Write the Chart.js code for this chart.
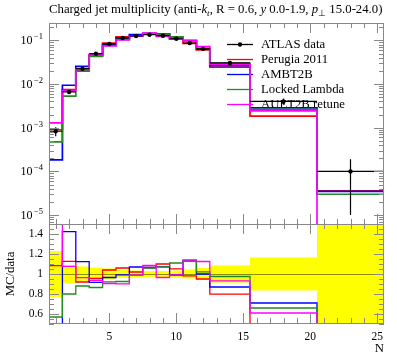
<!DOCTYPE html>
<html><head><meta charset="utf-8">
<script src="https://cdn.jsdelivr.net/npm/chart.js@4.4.1/dist/chart.umd.min.js"></script>
<style>
html,body{margin:0;padding:0;background:#fff;}
#wrap{position:relative;width:397px;height:358px;overflow:hidden;background:#fff;}
canvas{position:absolute;left:0;}
#title{position:absolute;left:49px;top:3px;font-family:"Liberation Serif",serif;font-size:12.75px;line-height:13px;white-space:nowrap;color:#000;}
#title sub{font-size:0.72em;vertical-align:-0.3em;line-height:0;}
</style></head>
<body><div id="wrap">
<canvas id="mainCanvas" width="397" height="225" style="top:0;width:397px;height:225px"></canvas>
<canvas id="ratioCanvas" width="397" height="134" style="top:224px;width:397px;height:134px"></canvas>
<div id="title">Charged jet multiplicity (anti-<i>k</i><sub><i>t</i></sub>, R = 0.6, <i>y</i> 0.0-1.9, <i>p</i><sub>⊥</sub> 15.0-24.0)</div>
</div>
<script>
// ---- data ----
const binEdges = [0.5,1.5,2.5,3.5,4.5,5.5,6.5,7.5,8.5,9.5,10.5,11.5,12.5,15.5,20.5,25.5];
const dataValues = [8.3e-4,6.6e-3,0.0225,0.0497,0.083,0.1135,0.126,0.135,0.128,0.109,0.087,0.064,0.0304,4.0e-3,1.0e-4];
const dataErrors = [1.9e-4,5.9e-4,1.7e-3,3.2e-3,4.6e-3,4.5e-3,4.4e-3,4.0e-3,3.8e-3,3.8e-3,3.9e-3,3.8e-3,2.6e-3,6.6e-4,9.0e-5];
const perugia2011 = [9.0e-4,7.43e-3,0.0207,0.0475,0.0863,0.1203,0.1285,0.1438,0.1408,0.1145,0.0853,0.0608,0.0243,1.84e-3,3.6e-5];
const ambt2b = [1.83e-4,9.4e-3,0.0253,0.0455,0.0801,0.1124,0.1348,0.1438,0.137,0.1079,0.0983,0.064,0.02645,2.84e-3,3.5e-5];
const lockedLambda = [4.73e-4,5.28e-3,0.0198,0.043,0.0764,0.105,0.1247,0.1431,0.137,0.121,0.0992,0.0653,0.02964,2.64e-3,3.0e-5];
const auet2bRetune = [1.29e-3,7.1e-3,0.0217,0.0465,0.0751,0.1022,0.1247,0.1465,0.1235,0.1079,0.0983,0.072,0.0283,2.44e-3,0];
const seriesLabels = ['ATLAS data','Perugia 2011','AMBT2B','Locked Lambda','AUET2B retune'];
const xTickLabels = [5,10,15,20,25];
const mainTickValues = [1e-5,1e-4,1e-3,1e-2,1e-1];
const ratioTickLabels = [0.6,0.8,1,1.2,1.4];
const xAxisTitle = 'N';
const ratioAxisTitle = 'MC/data';

// ---- styles ----
const MAIN_MIN = 6.25e-6, MAIN_MAX = 0.25;
const FRAME = '#888888';
const FONT = '"Liberation Serif", serif';
const mcSeries = [
  {label: seriesLabels[4], values: auet2bRetune, color: '#ff00ff'},
  {label: seriesLabels[3], values: lockedLambda, color: '#228b22'},
  {label: seriesLabels[2], values: ambt2b, color: '#0000ff'},
  {label: seriesLabels[1], values: perugia2011, color: '#ff0000'}
];
const legendOrder = [3,2,1,0];

function stepPoints(vals, floor) {
  const pts = vals.map((v,i)=>({x: binEdges[i], y: floor !== undefined ? Math.max(v, floor) : v}));
  const last = pts[pts.length-1].y;
  pts.push({x: binEdges[vals.length], y: last});
  return pts;
}

function clipTo(ctx, a) { ctx.beginPath(); ctx.rect(a.left, a.top, a.right-a.left, a.bottom-a.top); ctx.clip(); }

function drawXTicks(ctx, a, x) {
  for (let n = 1; n <= 25; n++) {
    const px = Math.round(x.getPixelForValue(n)) + 0.5;
    const len = n % 5 === 0 ? 10 : 5;
    ctx.moveTo(px, a.top); ctx.lineTo(px, a.top + len);
    ctx.moveTo(px, a.bottom); ctx.lineTo(px, a.bottom - len);
  }
}

const mainDeco = {
  id: 'mainDeco',
  beforeDatasetsDraw(chart) {
    const ctx = chart.ctx;
    ctx.save();
    ctx.font = '12.75px ' + FONT;
    ctx.textBaseline = 'middle';
    ctx.fillStyle = '#000';
    const entries = [{label: seriesLabels[0], color: '#000', dot: true}].concat(legendOrder.map(i => ({label: mcSeries[i].label, color: mcSeries[i].color})));
    entries.forEach((e, k) => {
      const yy = 44.5 + 15 * k;
      ctx.strokeStyle = e.color; ctx.lineWidth = 1.3;
      ctx.beginPath(); ctx.moveTo(227, yy); ctx.lineTo(253, yy); ctx.stroke();
      if (e.dot) { ctx.beginPath(); ctx.arc(240, yy, 2.2, 0, Math.PI*2); ctx.fillStyle = '#000'; ctx.fill(); }
      ctx.fillStyle = '#000';
      ctx.fillText(e.label, 261, yy + 0.5);
    });
    ctx.restore();
  },
  afterDatasetsDraw(chart) {
    const {ctx, chartArea: a, scales: {x, y}} = chart;
    ctx.save();
    clipTo(ctx, a);
    ctx.strokeStyle = '#000'; ctx.fillStyle = '#000'; ctx.lineWidth = 1.2;
    dataValues.forEach((v, i) => {
      const xl = x.getPixelForValue(binEdges[i]), xr = x.getPixelForValue(binEdges[i+1]);
      const xc = x.getPixelForValue((binEdges[i] + binEdges[i+1]) / 2);
      const yc = y.getPixelForValue(v);
      const lo = v - dataErrors[i];
      const yl = lo > 0 ? y.getPixelForValue(lo) : a.bottom + 5;
      const yh = y.getPixelForValue(v + dataErrors[i]);
      ctx.beginPath(); ctx.moveTo(xl, yc); ctx.lineTo(xr, yc); ctx.moveTo(xc, yl); ctx.lineTo(xc, yh); ctx.stroke();
      ctx.beginPath(); ctx.arc(xc, yc, 2.2, 0, Math.PI*2); ctx.fill();
    });
    ctx.restore();
    ctx.save();
    ctx.strokeStyle = FRAME; ctx.lineWidth = 1;
    ctx.strokeRect(a.left + 0.5, a.top + 0.5, a.right - a.left - 1, a.bottom - a.top);
    ctx.beginPath();
    drawXTicks(ctx, a, x);
    for (let e = -6; e <= 0; e++) {
      for (let m = 1; m <= 9; m++) {
        const v = m * Math.pow(10, e);
        if (v < MAIN_MIN || v > MAIN_MAX) continue;
        const py = Math.round(y.getPixelForValue(v)) + 0.5;
        const len = m === 1 ? 10 : 5;
        ctx.moveTo(a.left, py); ctx.lineTo(a.left + len, py);
        ctx.moveTo(a.right, py); ctx.lineTo(a.right - len, py);
      }
    }
    ctx.stroke();
    ctx.fillStyle = '#000';
    ctx.textAlign = 'right';
    ctx.textBaseline = 'alphabetic';
    mainTickValues.forEach(v => {
      const py = y.getPixelForValue(v);
      const ex = Math.round(Math.log10(v));
      const expTxt = '\u2212' + Math.abs(ex);
      ctx.font = '8.5px ' + FONT;
      const w = ctx.measureText(expTxt).width;
      ctx.fillText(expTxt, 43, py - 1);
      ctx.font = '12px ' + FONT;
      ctx.fillText('10', 43 - w - 1.5, py + 4);
    });
    ctx.restore();
  }
};

const ratioDeco = {
  id: 'ratioDeco',
  beforeDatasetsDraw(chart) {
    const {ctx, chartArea: a, scales: {x, y}} = chart;
    ctx.save();
    clipTo(ctx, a);
    ctx.fillStyle = '#ffff00';
    dataValues.forEach((v, i) => {
      const rel = dataErrors[i] / v;
      const xl = x.getPixelForValue(binEdges[i]), xr = x.getPixelForValue(binEdges[i+1]);
      const y1 = y.getPixelForValue(1 + rel), y2 = y.getPixelForValue(1 - rel);
      ctx.fillRect(xl, y1, xr - xl, y2 - y1);
    });
    ctx.strokeStyle = 'rgba(0,0,0,0.45)'; ctx.lineWidth = 1;
    const p1 = Math.round(y.getPixelForValue(1)) + 0.5;
    ctx.beginPath(); ctx.moveTo(a.left, p1); ctx.lineTo(a.right, p1); ctx.stroke();
    ctx.restore();
  },
  afterDatasetsDraw(chart) {
    const {ctx, chartArea: a, scales: {x, y}} = chart;
    ctx.save();
    ctx.strokeStyle = FRAME; ctx.lineWidth = 1;
    ctx.strokeRect(a.left + 0.5, a.top + 0.5, a.right - a.left - 1, a.bottom - a.top - 1);
    ctx.beginPath();
    drawXTicks(ctx, {left: a.left, right: a.right, top: a.top, bottom: a.bottom - 1}, x);
    for (let k = 0; k <= 20; k++) {
      const v = 0.5 + k * 0.05;
      const py = Math.round(y.getPixelForValue(v)) + 0.5;
      const major = ratioTickLabels.some(t => Math.abs(t - v) < 1e-6);
      const len = major ? 10 : 5;
      ctx.moveTo(a.left, py); ctx.lineTo(a.left + len, py);
      ctx.moveTo(a.right, py); ctx.lineTo(a.right - len, py);
    }
    ctx.stroke();
    ctx.fillStyle = '#000';
    ctx.font = '11.5px ' + FONT;
    ctx.textAlign = 'right'; ctx.textBaseline = 'middle';
    ratioTickLabels.forEach(t => ctx.fillText(String(t), 43, y.getPixelForValue(t)));
    ctx.textAlign = 'center';
    xTickLabels.forEach(t => ctx.fillText(String(t), x.getPixelForValue(t), a.bottom + 13));
    ctx.font = '12.75px ' + FONT;
    ctx.textAlign = 'right';
    ctx.fillText(xAxisTitle, a.right, a.bottom + 25);
    ctx.save();
    ctx.translate(11, y.getPixelForValue(1));
    ctx.rotate(-Math.PI / 2);
    ctx.textAlign = 'center';
    ctx.fillText(ratioAxisTitle, 0, 0);
    ctx.restore();
    ctx.restore();
  }
};

const commonOpts = {
  responsive: false, animation: false, devicePixelRatio: 1, events: [],
  plugins: {legend: {display: false}, tooltip: {enabled: false}}
};

new Chart(document.getElementById('mainCanvas'), {
  type: 'line',
  data: {datasets: mcSeries.map(s => ({
    label: s.label, data: stepPoints(s.values, MAIN_MIN * 0.1),
    borderColor: s.color, borderWidth: 1.7, pointRadius: 0, stepped: true, fill: false, clip: 0
  }))},
  options: Object.assign({}, commonOpts, {
    layout: {padding: {left: 49, right: 13, top: 23, bottom: 1}},
    scales: {
      x: {type: 'linear', min: 0.5, max: 25.5, display: false},
      y: {type: 'logarithmic', min: MAIN_MIN, max: MAIN_MAX, display: false}
    }
  }),
  plugins: [mainDeco]
});

new Chart(document.getElementById('ratioCanvas'), {
  type: 'line',
  data: {datasets: mcSeries.map(s => ({
    label: s.label, data: stepPoints(s.values.map((v, i) => v / dataValues[i])),
    borderColor: s.color, borderWidth: 1.3, pointRadius: 0, stepped: true, fill: false, clip: 0
  }))},
  options: Object.assign({}, commonOpts, {
    layout: {padding: {left: 49, right: 13, top: 0, bottom: 34}},
    scales: {
      x: {type: 'linear', min: 0.5, max: 25.5, display: false},
      y: {type: 'linear', min: 0.5, max: 1.5, display: false}
    }
  }),
  plugins: [ratioDeco]
});
</script>
</body></html>
